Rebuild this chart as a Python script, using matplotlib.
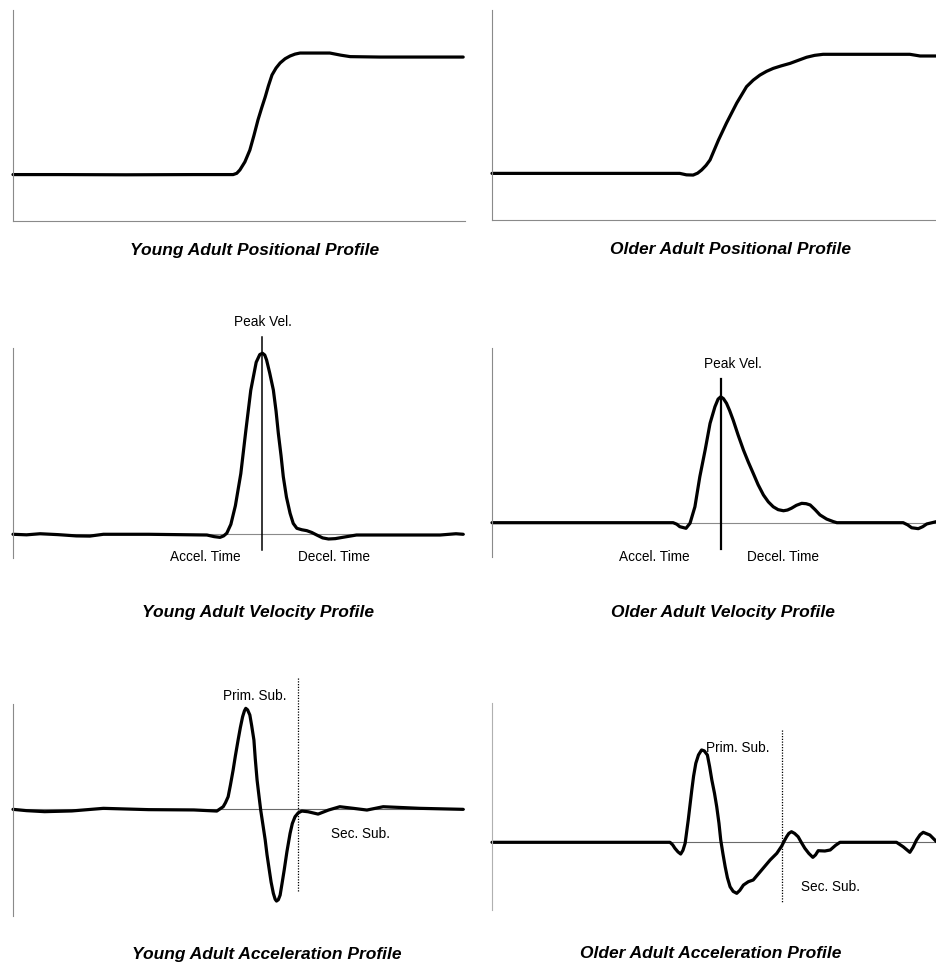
import numpy as np
import matplotlib
matplotlib.use('Agg')
import matplotlib.pyplot as plt

plt.rcParams['font.family'] = ['Liberation Sans', 'DejaVu Sans']

# time axis is 0-100 (% of trial), amplitudes in arbitrary units

# positional profiles (0 = bottom of axis, 100 = top)
young_pos_t = [0, 10, 25, 40, 48.7, 49.5, 50.2, 51.3, 52.4, 53.3, 54.2, 55.0, 55.8, 56.5,
               57.3, 58.2, 59.1, 60.2, 61.3, 62.4, 63.5, 70.1, 72.5, 74.6, 81.2, 99.6]
young_pos_y = [22.0, 22.0, 21.9, 22.0, 22.0, 22.6, 24.2, 28.0, 33.6, 40.5, 47.9, 53.5, 58.8,
               64.0, 69.2, 72.5, 74.9, 76.9, 78.2, 79.1, 79.6, 79.6, 78.6, 77.9, 77.7, 77.7]

older_pos_t = [0, 42.2, 43.7, 45.2, 46.2, 47.1, 48.1, 49.0, 50.9, 52.7, 55.0, 57.2, 58.7,
               60.2, 61.7, 63.2, 65.0, 67.0, 68.9, 70.7, 72.5, 74.4, 93.9, 96.2, 99.9]
older_pos_y = [22.2, 22.2, 21.5, 21.4, 22.3, 23.8, 26.0, 28.6, 38.1, 46.2, 55.7, 63.5, 66.6,
               69.0, 70.8, 72.2, 73.4, 74.6, 76.1, 77.5, 78.4, 78.9, 78.9, 78.1, 78.1]

# velocity profiles (peak of young = 100)
young_vel_t = [0, 3, 6, 10, 14, 17, 20, 30, 42.9, 44.5, 45.8, 46.6, 47.3, 48.2, 49.2, 50.4,
               51.5, 52.6, 53.8, 54.6, 55.2, 55.7, 56.1, 56.8, 57.6, 58.2, 58.7, 59.3,
               59.8, 60.5, 61.3, 62.0, 62.8, 63.9, 65.0, 66.1, 67.2, 68.5, 69.8, 71.3,
               72.9, 76.0, 90, 94.5, 98, 99.6]
young_vel_y = [0, -0.3, 0.3, -0.2, -0.9, -1.0, 0, 0, -0.4, -1.3, -1.7, -0.9, 0.6, 5.5, 15.8,
               33.5, 57.0, 79.5, 95.0, 99.3, 100, 99.0, 96.3, 89.0, 79.7, 68.0, 55.8, 43.5,
               31.8, 20.5, 11.6, 6.0, 3.3, 2.5, 2.0, 1.0, -0.4, -2.0, -2.6, -2.4,
               -1.7, -0.4, -0.4, -0.4, 0.3, 0]
young_peak_t = 55.0

older_vel_t = [0, 40.7, 41.5, 42.2, 43.6, 44.5, 45.6, 46.7, 47.9, 49.0, 50.1, 50.8, 51.4,
               52.0, 52.7, 53.4, 54.2, 55.3, 56.5, 57.6, 58.7, 59.8, 61.0, 62.1, 63.2,
               64.3, 65.5, 66.4, 67.3, 68.4, 69.6, 70.6, 71.5, 72.6, 73.7, 75.2, 76.7,
               77.5, 92.4, 93.4, 94.3, 95.8, 96.8, 97.7, 99.9]
older_vel_y = [0, 0, -0.8, -2.2, -3.1, -0.3, 8.8, 25.4, 40.2, 54.9, 64.1, 68.3, 69.6,
               68.6, 66.0, 62.0, 56.7, 48.5, 40.2, 33.5, 27.3, 21.0, 15.3, 11.5, 8.8,
               7.2, 6.6, 7.0, 8.0, 9.6, 10.7, 10.5, 9.8, 7.2, 4.3, 2.0, 0.6,
               0, 0, -1.2, -2.8, -3.3, -2.2, -0.7, 0.6]
older_peak_t = 51.4

# acceleration profiles (primary peak of young = 100)
young_acc_t = [0, 3, 7, 13, 20, 30, 40, 45.1, 46.5, 47.0, 47.6, 48.1, 48.7, 49.2, 49.8,
               50.3, 50.8, 51.2, 51.5, 51.9, 52.4, 52.8, 53.3, 53.6, 54.0, 54.4, 54.8,
               55.3, 55.8, 56.2, 56.7, 57.1, 57.6, 58.0, 58.3, 58.7, 59.1, 59.5, 60.0,
               60.6, 61.3, 61.8, 62.4, 63.1, 63.9, 65.3, 67.5, 69.8, 72.3, 75.3, 78.3,
               81.9, 90, 99.6]
young_acc_y = [0, -1.3, -2.3, -1.6, 1.0, -0.3, -0.6, -1.7, 2.6, 6.5, 12.5, 24.0, 38.9, 53.0,
               68.6, 81.0, 91.7, 97.5, 100, 98.5, 93.4, 83.0, 68.6, 50.0, 29.0, 14.0, -0.7,
               -15.5, -30.4, -45.0, -60.1, -72.0, -83.2, -89.0, -90.8, -89.5, -84.9, -74.0,
               -60.1, -42.0, -23.8, -14.0, -7.3, -3.5, -1.7, -2.4, -4.7, -0.7, 2.6, 1.0,
               -0.7, 2.6, 1.0, 0]
young_sub_t = 63.0

older_acc_t = [0, 40.0, 40.6, 41.1, 41.8, 42.4, 42.9, 43.4, 44.1, 44.5, 44.9, 45.3, 45.8,
               46.4, 47.1, 47.7, 48.4, 48.9, 49.4, 50.0, 50.5, 51.0, 51.4, 51.9, 52.4,
               52.9, 53.5, 54.2, 55.0, 55.7, 56.5, 57.6, 58.7, 60.6, 62.5, 64.0, 65.1,
               65.7, 66.2, 66.7, 67.3, 68.0, 68.8, 69.5, 70.3, 71.2, 72.1, 72.7, 73.3,
               74.8, 76.0, 77.2, 78.2, 90.9, 92.4, 93.9, 94.6, 95.4, 96.2, 96.9, 98.4,
               99.9]
older_acc_y = [0, 0, -2.5, -5.9, -9.5, -11.6, -8.0, -1.0, 22.1, 37.0, 51.8, 65.5, 78.2,
               86.5, 91.4, 90.5, 86.4, 75.0, 61.7, 48.5, 35.2, 19.0, 2.3, -11.5, -24.2,
               -35.0, -44.0, -48.6, -50.5, -47.5, -42.3, -39.0, -37.3, -27.4, -17.5,
               -10.9, -3.7, 1.5, 5.5, 8.8, 10.5, 8.8, 5.5, 0, -5.9, -11.0, -14.9, -12.5,
               -8.3, -8.6, -7.6, -3.0, 0, 0, -4.4, -9.9, -5.0, 2.3, 7.5, 9.9, 7.2, 0.6]
older_sub_t = 65.1

W, H = 937, 968
fig = plt.figure(figsize=(W / 100, H / 100), dpi=100)


def make_ax(left, right, top, bottom, ylim, spines=('left',)):
    ax = fig.add_axes([left / W, 1 - bottom / H, (right - left) / W, (bottom - top) / H])
    ax.set_xlim(0, 100)
    ax.set_ylim(*ylim)
    for s in ax.spines:
        ax.spines[s].set_visible(s in spines)
        ax.spines[s].set_color('#8a8a8a')
        ax.spines[s].set_linewidth(0.8)
    ax.set_xticks([])
    ax.set_yticks([])
    ax.patch.set_alpha(0)
    return ax


curve = dict(color='black', lw=2.3, solid_joinstyle='round', solid_capstyle='round', clip_on=False)
small = dict(fontsize=9.8, ha='center', va='center')
title = dict(fontsize=12.5, fontweight='bold', fontstyle='italic', ha='center', va='center')

# positional
ax1 = make_ax(13, 465, 10, 221, (0, 100), spines=('left', 'bottom'))
ax1.plot(young_pos_t, young_pos_y, **curve)
ax2 = make_ax(492, 937, 10, 220, (0, 100), spines=('left', 'bottom'))
ax2.plot(older_pos_t, older_pos_y, **curve)

# velocity
ax3 = make_ax(13, 465, 348, 558, (-13.1, 102.9))
ax3.axhline(0, color='#8a8a8a', lw=0.8)
ax3.plot(young_vel_t, young_vel_y, **curve)
ax3.plot([young_peak_t, young_peak_t], [109.2, -8.7], color='black', lw=1.1, clip_on=False)
ax3.text(55.3, 117.5, 'Peak Vel.', **small)
ax3.text(42.6, -12.4, 'Accel. Time', **small)
ax3.text(71.1, -12.4, 'Decel. Time', **small)

ax4 = make_ax(492, 937, 348.3, 556.7, (-18.8, 96.4))
ax4.axhline(0, color='#8a8a8a', lw=0.8)
ax4.plot(older_vel_t, older_vel_y, **curve)
ax4.plot([older_peak_t, older_peak_t], [79.2, -14.7], color='black', lw=1.6, clip_on=False)
ax4.text(54.2, 87.5, 'Peak Vel.', **small)
ax4.text(36.4, -18.8, 'Accel. Time', **small)
ax4.text(65.5, -18.8, 'Decel. Time', **small)

# acceleration
ax5 = make_ax(13, 465, 704.3, 916, (-105.6, 104.0))
ax5.axhline(0, color='#6a6a6a', lw=0.8)
ax5.plot(young_acc_t, young_acc_y, **curve)
ax5.plot([young_sub_t, young_sub_t], [129.7, -81.6], color='black', lw=0.9, ls=(0, (1, 1.2)), clip_on=False)
ax5.text(53.5, 112.5, 'Prim. Sub.', **small)
ax5.text(76.8, -24.5, 'Sec. Sub.', **small)

ax6 = make_ax(492, 937, 703.3, 910, (-67.0, 137.6))
ax6.spines['left'].set_color('#b0b0b0')
ax6.axhline(0, color='#6a6a6a', lw=0.8)
ax6.plot(older_acc_t, older_acc_y, **curve)
ax6.plot([older_sub_t, older_sub_t], [111.2, -58.8], color='black', lw=0.9, ls=(0, (1, 1.2)), clip_on=False)
ax6.text(48.1, 93.1, 'Prim. Sub.', fontsize=9.8, ha='left', va='center')
ax6.text(76.0, -44.0, 'Sec. Sub.', **small)

# panel captions
captions = ['Young Adult Positional Profile', 'Older Adult Positional Profile',
            'Young Adult Velocity Profile', 'Older Adult Velocity Profile',
            'Young Adult Acceleration Profile', 'Older Adult Acceleration Profile']
cap_xy = [(255, 250), (731, 250), (258, 612), (723, 612), (267, 955), (711, 954)]
for txt, (cx, cy) in zip(captions, cap_xy):
    fig.text(cx / W, 1 - cy / H, txt, **title)

fig.savefig('out.png', dpi=100)
